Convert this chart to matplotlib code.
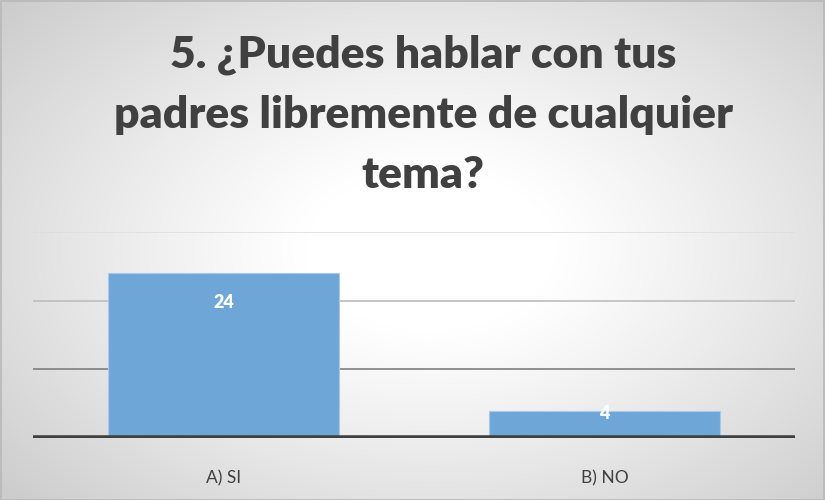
import numpy as np
import matplotlib
matplotlib.use("Agg")
import matplotlib.pyplot as plt
from matplotlib.patches import Rectangle

categories = ["A) SI", "B) NO"]
values = [24, 4]
title = "5. ¿Puedes hablar con tus\npadres libremente de cualquier\ntema?"

W, H = 825, 500
fig = plt.figure(figsize=(W / 100, H / 100), dpi=100)
FONT = "Lato"

# radial gradient background
bg = fig.add_axes([0, 0, 1, 1], zorder=-10)
yy, xx = np.mgrid[0:H, 0:W]
cx, cy = 430, 250
r = np.sqrt(((xx - cx) / 500.0) ** 2 + ((yy - cy) / 320.0) ** 2)
shade = 1.0 - 0.20 * np.clip((r - 0.25) / 0.9, 0, 1) ** 1.1
img = np.dstack([shade, shade, shade])
bg.imshow(img, extent=[0, 1, 0, 1], aspect="auto", origin="upper")
bg.set_axis_off()
bg.add_patch(Rectangle((0.0008, 0.001), 0.9984, 0.997, transform=bg.transAxes,
                       fill=False, edgecolor="#b8b8b8", linewidth=1.2))

# plot area: x 33..795, y 232..438 (top = 30)
left, right = 33 / W, 795 / W
bottom, top = 1 - 438 / H, 1 - 232 / H
ax = fig.add_axes([left, bottom, right - left, top - bottom])
ax.patch.set_alpha(0)

x = np.arange(len(categories))
bars = ax.bar(x, values, width=0.604, color="#6fa6d8", edgecolor="#a9c9ea",
              linewidth=0.8, zorder=3)

ax.set_xlim(-0.5, len(categories) - 0.5)
ax.set_ylim(0, 30)

grid_colors = {10: "#7f7f7f", 20: "#bdbdbd", 30: "#dedede"}
for yv, c in grid_colors.items():
    ax.axhline(yv, color=c, linewidth=1.2, zorder=1)
ax.axhline(0, color="#404040", linewidth=4, zorder=4)

for s in ax.spines.values():
    s.set_visible(False)
ax.set_yticks([])
ax.set_xticks(x)
ax.set_xticklabels(categories, fontsize=12.5, color="#404040", family=FONT)
ax.tick_params(axis="x", length=0, pad=23)

for b, v in zip(bars, values):
    hpx = ax.transData.transform((0, v))[1] - ax.transData.transform((0, 0))[1]
    off = -29 if hpx > 60 else -3
    ax.annotate(str(v), (b.get_x() + b.get_width() / 2, v), xytext=(0, off),
                textcoords="offset pixels", ha="center", va="center",
                color="white", fontsize=13, fontweight="heavy",
                family=FONT, zorder=5)

fig.text(423 / W, 1 - 115 / H, title, ha="center", va="center",
         fontsize=32, fontweight="heavy", color="#404040",
         family=FONT, linespacing=1.6)

fig.savefig("out.png", dpi=100)
